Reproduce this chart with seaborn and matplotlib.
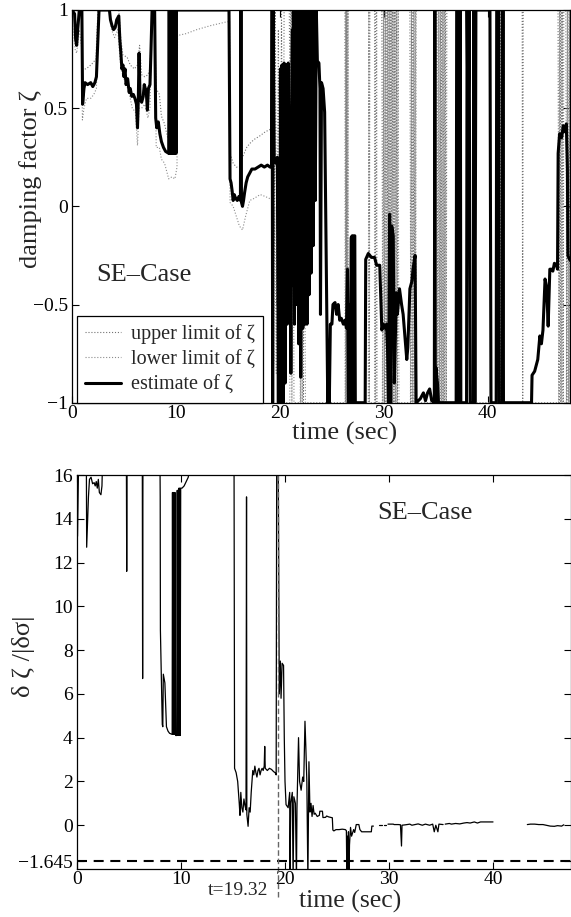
import matplotlib
matplotlib.use("Agg")
import matplotlib.pyplot as plt
import numpy as np
import pandas as pd
import seaborn as sns

nan = float("nan")

# ---------------- data: top panel (damping factor) ----------------
est_pts = [
(0.0,1.0),(0.25,0.98),(0.35,0.85),(0.45,0.82),(0.55,0.9),(0.7,1.0),(0.95,1.0),(1.02,0.52),(1.15,0.6),(1.25,0.63),(1.5,0.62),(1.8,0.63),(2.0,0.61),(2.2,0.63),(2.35,0.66),(2.6,1.0),(3.6,1.0),(3.7,0.95),(3.85,0.92),(4.0,0.9),(4.15,0.91),(4.3,0.95),(4.5,0.97),(4.6,0.85),(4.7,0.78),(4.8,0.7),(4.9,0.72),(5.0,0.66),(5.1,0.7),(5.2,0.62),(5.35,0.65),(5.5,0.58),(5.6,0.6),(5.75,0.56),(5.9,0.57),(6.05,0.55),(6.2,0.52),(6.3,0.4),(6.38,0.55),(6.45,0.78),(6.55,0.55),(6.7,0.53),(6.85,0.56),(6.95,0.62),(7.05,0.6),(7.15,0.58),(7.25,0.49),(7.35,0.6),(7.5,0.62),(7.6,0.8),(7.7,1.0),(7.95,1.0),(8.05,0.45),(8.15,0.4),(8.3,0.43),(8.45,0.37),(8.6,0.33),(8.8,0.3),(9.0,0.28),(9.3,0.27),
(9.35,1.0),(9.4,0.27),(9.45,1.0),(9.5,0.27),(9.55,1.0),(9.6,0.27),(9.65,1.0),(9.7,0.27),(9.75,1.0),(9.8,0.27),(9.85,1.0),(9.9,0.27),(9.95,1.0),(10.0,0.27),(10.05,1.0),
(15.1,1.0),(15.2,0.14),(15.3,0.12),(15.4,0.08),(15.5,0.03),(15.6,0.06),(15.75,0.04),(15.9,0.03),(16.05,0.05),(16.2,0.03),(16.25,1.0),(16.3,0.02),(16.4,0.0),(16.5,0.03),(16.6,0.07),(16.75,0.12),(16.9,0.15),(17.1,0.17),(17.3,0.19),(17.6,0.19),(17.9,0.2),(18.2,0.21),(18.5,0.2),(18.8,0.21),(19.05,0.2),(19.2,0.2),
(19.25,1.0),(19.3,-1.0),(19.35,1.0),(19.45,0.25),(19.6,0.22),(19.75,0.25),(19.85,-1.0),(19.9,0.0),(20.0,-1.0),(20.05,0.7),(20.1,-1.0),(20.2,0.72),(20.3,-1.0),(20.4,0.73),(20.5,-0.9),(20.6,0.72),(20.7,-0.6),(20.8,0.73),(20.85,0.37),(21.0,0.37),(21.05,-0.85),(21.1,0.38),(21.2,0.9),(21.25,-0.4),(21.3,1.0),(21.4,-0.6),(21.5,1.0),(21.6,-0.5),(21.7,1.0),(21.8,-0.7),(21.9,1.0),(22.0,-0.87),(22.1,1.0),(22.2,-0.62),(22.3,1.0),(22.4,-0.6),(22.5,1.0),(22.6,-0.6),(22.7,1.0),(22.8,-0.45),(22.9,1.0),(23.0,-0.34),(23.1,1.0),(23.2,-0.2),(23.3,1.0),(23.4,0.03),(23.5,1.0),(23.6,0.74),(23.75,0.73),(23.85,0.6),(23.9,-0.55),(24.0,0.63),(24.15,0.6),(24.3,0.48),(24.5,-0.53),(24.6,-1.0),(24.7,-0.85),(24.75,-1.0),(24.85,-0.6),(25.0,-0.6),(25.1,-0.5),(25.3,-0.49),(25.45,-0.55),(25.6,-0.5),(25.75,-0.58),(25.9,-0.57),(26.1,-0.6),(26.25,-0.58),(26.4,-0.62),(26.5,-0.32),(26.6,-1.0),(26.65,-0.5),(26.8,-1.0),(26.85,-0.16),(26.95,-0.15),(27.0,-1.0),(27.1,-0.15),(27.2,-0.15),(27.25,-1.0),(28.2,-1.0),(28.25,-0.27),(28.5,-0.24),(28.8,-0.26),(29.1,-0.26),(29.3,-0.3),(29.6,-0.3),(29.8,-0.63),(29.95,-0.6),(30.1,-0.62),(30.25,-0.6),(30.35,-0.73),(30.45,-1.0),(30.55,-0.04),(30.65,-1.0),(30.75,-0.1),(30.9,-0.15),(31.0,-0.9),(31.2,-0.44),(31.3,-0.55),(31.5,-0.42),(31.7,-0.5),(31.85,-0.55),(32.0,-0.65),(32.2,-0.78),(32.3,-0.72),(32.5,-0.42),(32.7,-0.38),(32.8,-0.32),(33.0,-0.25),(33.1,-1.0),(33.5,-0.98),(33.8,-0.95),(34.0,-0.99),(34.2,-0.95),(34.4,-0.93),(34.6,-0.99),(34.85,-1.0),(34.9,1.0),(34.95,-1.0),(35.0,-0.82),(35.15,-0.9),(35.25,-1.0),
(36.95,-1.0),(37.0,1.0),(37.1,1.0),(37.15,-1.0),(37.3,-1.0),(37.35,1.0),(37.4,-1.0),(37.95,-1.0),(38.0,1.0),(38.1,0.34),(38.2,1.0),(38.3,-1.0),(38.6,-1.0),(38.65,1.0),(38.75,-1.0),(38.85,1.0),(40.2,1.0),(40.3,-1.0),(40.8,-1.0),(40.85,1.0),(41.05,1.0),(41.1,-1.0),(41.4,-1.0),(41.45,1.0),(41.5,-1.0),(44.2,-1.0),(44.25,-0.86),(44.5,-0.84),(44.8,-0.78),(45.0,-0.66),(45.15,-0.7),(45.3,-0.63),(45.5,-0.37),(45.65,-0.41),(45.8,-0.61),(45.96,-0.32),(46.1,-0.32),(46.25,-0.33),(46.4,-0.29),(46.6,-0.3),(46.7,-0.32),(46.76,0.27),(46.9,0.37),(47.1,0.35),(47.25,0.41),(47.4,0.38),(47.55,0.42),(47.65,0.19),(47.7,-0.25),(47.85,-0.27),(48.0,-0.28),
]

upper_pts = [
(0.0,1.0),(0.9,1.0),(1.0,0.7),(1.3,0.7),(1.6,0.71),(2.0,0.73),(2.3,0.75),(2.5,1.0),(4.5,1.0),(4.7,0.85),(4.9,0.77),(5.3,0.76),(5.6,0.72),(6.0,0.7),(6.3,0.72),(6.5,0.82),(6.7,0.67),(7.0,0.66),(7.3,0.67),(7.5,0.7),(7.7,1.0),(7.9,1.0),(8.1,0.6),(8.4,0.57),(8.6,0.46),(8.9,0.42),(9.2,0.35),(9.5,0.34),(9.8,0.35),(10.1,1.0),(15.15,1.0),(15.2,0.27),(15.5,0.22),(15.8,0.2),(16.1,0.2),(16.4,0.25),(16.8,0.3),(17.1,0.32),(17.5,0.34),(18.1,0.36),(18.6,0.38),(19.0,0.39),(19.25,0.4),
(19.35,1.0),(19.45,-0.2),(19.55,1.0),(19.7,-0.5),(19.85,0.9),(20.0,-0.85),(20.15,1.0),(20.3,-0.6),(20.4,1.0),(20.9,1.0),(21.0,0.3),(21.1,1.0),(21.2,0.5),(21.3,1.0),(21.9,1.0),(22.0,-1.0),(22.1,1.0),(22.25,-1.0),(22.4,1.0),
(26.25,1.0),(26.3,-1.0),(26.35,1.0),(26.4,-1.0),(26.45,1.0),(26.5,-1.0),(26.55,1.0),
(28.55,1.0),(28.6,-1.0),(28.65,1.0),(29.1,1.0),(29.15,-1.0),(29.2,1.0),
(29.8,1.0),(29.9,-1.0),(30.0,1.0),(30.1,-1.0),(30.2,1.0),(30.3,-1.0),(30.4,1.0),(30.5,-1.0),(30.6,1.0),(30.7,-1.0),(30.8,1.0),(30.9,-1.0),(31.0,1.0),(31.1,-1.0),(31.2,1.0),(31.3,-1.0),(31.4,1.0),
(32.5,1.0),(32.6,-1.0),(32.7,1.0),(32.8,-1.0),(32.9,1.0),(33.0,-1.0),(33.1,1.0),
(35.1,1.0),(35.2,-1.0),(35.3,1.0),(35.4,-1.0),(35.5,1.0),(35.6,-1.0),(35.7,1.0),(35.8,-1.0),(35.9,1.0),(36.0,-1.0),(36.05,1.0),
(41.0,1.0),(41.1,-1.0),(41.2,1.0),(41.3,-1.0),(41.4,1.0),(41.5,-1.0),(41.55,1.0),
(43.3,1.0),(43.35,-1.0),(43.4,1.0),
(46.75,1.0),(46.85,-1.0),(46.95,1.0),(47.05,-1.0),(47.15,1.0),(47.25,-1.0),(47.3,1.0),(47.5,1.0),(47.6,-1.0),(47.7,1.0),(47.8,-1.0),(47.9,1.0),(48.0,-1.0),
]

lower_pts = [
(0.0,0.95),(0.3,0.8),(0.45,0.78),(0.7,0.9),(0.95,0.8),(1.0,0.44),(1.15,0.5),(1.4,0.55),(1.8,0.55),(2.1,0.57),(2.35,0.6),(2.5,1.0),(3.6,1.0),(3.8,0.9),(4.1,0.86),(4.4,0.9),(4.7,0.7),(5.0,0.65),(5.3,0.61),(5.6,0.55),(5.8,0.5),(6.1,0.48),(6.3,0.31),(6.45,0.5),(6.7,0.5),(7.0,0.52),(7.3,0.45),(7.5,0.5),(7.7,1.0),(7.95,1.0),(8.1,0.3),(8.4,0.3),(8.6,0.24),(8.9,0.22),(9.3,0.14),(9.6,0.15),(9.9,0.14),(10.1,0.2),(10.15,0.87),(11.0,0.88),(12.0,0.9),(13.3,0.92),(14.9,0.94),(15.15,0.94),(15.2,0.02),(15.5,0.0),(15.8,-0.05),(16.1,-0.1),(16.4,-0.12),(16.7,-0.05),(17.1,0.03),(17.5,0.04),(18.1,0.06),(18.6,0.05),(19.0,0.04),(19.25,0.04),
(19.4,-0.8),(19.5,0.0),(19.65,-0.85),(19.8,0.0),(19.95,-0.8),(20.1,0.0),(20.25,-0.85),(20.4,-1.0),(20.95,-1.0),(21.05,1.0),(21.15,-1.0),(21.25,1.0),(21.35,-1.0),(21.95,-1.0),(22.05,1.0),(22.15,-1.0),(22.3,1.0),(22.45,-1.0),
(26.28,-1.0),(26.33,1.0),(26.38,-1.0),(26.43,1.0),(26.48,-1.0),(26.53,1.0),(26.6,-1.0),
(28.5,-1.0),(28.55,1.0),(28.6,-1.0),(29.25,-1.0),(29.3,1.0),(29.35,-1.0),
(29.85,-1.0),(29.95,1.0),(30.05,-1.0),(30.15,1.0),(30.25,-1.0),(30.35,1.0),(30.45,-1.0),(30.55,1.0),(30.65,-1.0),(30.75,1.0),(30.85,-1.0),(30.95,1.0),(31.05,-1.0),(31.15,1.0),(31.25,-1.0),(31.35,1.0),(31.45,-1.0),
(32.55,-1.0),(32.65,1.0),(32.75,-1.0),(32.85,1.0),(32.95,-1.0),(33.05,1.0),(33.1,-1.0),
(35.15,-1.0),(35.25,1.0),(35.35,-1.0),(35.45,1.0),(35.55,-1.0),(35.65,1.0),(35.75,-1.0),(35.85,1.0),(35.95,-1.0),(36.05,-1.0),
(41.05,-1.0),(41.15,1.0),(41.25,-1.0),(41.35,1.0),(41.45,-1.0),(41.5,-1.0),
(46.8,-1.0),(46.9,1.0),(47.0,-1.0),(47.1,1.0),(47.2,-1.0),(47.3,-1.0),(47.55,-1.0),(47.65,1.0),(47.75,-1.0),(47.85,1.0),(47.95,-1.0),
]

# ---------------- data: bottom panel (sensitivity) ----------------
dz_pts = [
(0.0,16.3),(0.05,13.2),(0.15,16.5),(0.9,16.5),(0.93,12.7),(1.1,15.0),(1.2,15.8),(1.35,15.9),(1.5,15.6),(1.65,15.65),(1.75,15.5),(1.85,15.7),(1.95,15.4),(2.05,15.8),(2.15,15.2),(2.3,15.1),(2.4,15.5),(2.45,16.5),
(4.75,16.5),(4.78,11.6),(4.81,16.5),(6.28,16.5),(6.31,6.7),(6.34,16.5),
(7.98,16.5),(8.0,15.0),(8.02,8.9),(8.1,7.0),(8.2,4.6),(8.25,4.5),(8.3,6.9),(8.45,6.5),(8.6,4.5),(8.75,4.3),(8.9,4.2),(9.15,4.15),(9.18,15.2),(9.22,4.15),(9.26,15.2),(9.3,4.15),(9.34,15.2),(9.38,4.15),(9.42,15.2),(9.48,4.1),(9.6,4.1),(9.64,15.3),(9.68,4.1),(9.72,15.3),(9.76,4.1),(9.8,15.4),(9.84,4.1),(9.88,15.4),(9.92,4.1),(9.97,15.4),(10.1,15.4),(10.3,15.5),(10.5,15.7),(10.7,15.9),(10.85,16.5),
(15.1,16.5),(15.15,2.6),(15.3,2.4),(15.45,2.0),(15.6,1.0),(15.67,0.45),(15.75,1.5),(15.85,0.8),(15.95,0.6),(16.05,1.2),(16.15,0.9),(16.25,0.7),(16.3,15.0),(16.33,0.5),(16.4,0.2),(16.45,-0.05),(16.55,0.8),(16.65,0.6),(16.75,1.5),(16.9,2.5),(17.0,2.3),(17.1,2.7),(17.2,2.4),(17.3,2.2),(17.4,2.5),(17.5,2.6),(17.6,2.3),(17.7,2.5),(17.8,2.6),(17.9,2.5),(18.0,2.7),(18.05,3.6),(18.1,2.6),(18.3,2.5),(18.5,2.6),(18.7,2.55),(18.9,2.45),(19.05,2.4),(19.15,2.3),(19.2,16.5),
(19.35,16.5),(19.45,6.0),(19.55,7.5),(19.62,5.8),(19.72,7.4),(19.86,7.3),(19.93,4.0),(20.0,2.0),(20.1,0.94),(20.3,0.8),(20.45,1.5),(20.48,-2.5),(20.55,1.0),(20.7,1.5),(20.78,-2.5),(20.85,1.3),(21.0,1.0),(21.1,-2.5),(21.15,0.8),(21.3,4.0),(21.4,2.0),(21.55,1.6),(21.7,2.2),(21.8,2.0),(21.92,4.75),(22.0,3.6),(22.1,2.0),(22.2,-2.5),(22.3,2.9),(22.4,0.6),(22.5,1.0),(22.6,0.4),(22.7,0.9),(22.8,0.5),(22.9,0.55),(23.1,0.4),(23.3,0.45),(23.35,0.64),(23.6,0.64),(23.65,0.35),(23.9,0.36),(24.0,0.42),(24.2,0.38),(24.4,0.36),(24.55,0.34),(24.6,-0.22),(24.7,-0.26),(24.9,-0.2),(25.2,-0.2),(25.5,-0.18),(25.8,-0.2),(25.9,-0.25),(25.95,-2.5),(26.0,-0.5),(26.05,-2.5),(26.1,-0.3),(26.15,-2.5),(26.2,-0.9),(26.3,-0.1),(26.4,-0.5),(26.6,-0.2),(26.7,-0.33),(26.85,0.03),(27.1,0.03),(27.2,-0.2),(27.37,-0.3),(28.3,-0.3),(28.35,-0.04),(28.5,-0.04),
(28.6,nan),(29.0,0.03),(29.3,0.03),(29.4,nan),(29.5,0.03),(29.7,0.03),(29.8,nan),(29.9,0.05),(30.4,0.05),(30.5,0.03),(30.9,0.03),(31.1,0.02),(31.2,-0.95),(31.25,0.0),(31.6,0.02),(32.0,0.05),(32.2,0.0),(32.4,0.02),(32.8,0.06),(33.2,0.0),(33.5,0.05),(33.9,0.0),(34.2,0.05),(34.35,-0.3),(34.5,0.0),(34.7,-0.3),(34.8,0.05),(35.2,0.03),(35.3,nan),(35.4,0.05),(35.8,0.08),(36.0,0.05),(36.4,0.08),(36.8,0.06),(37.2,0.1),(37.5,0.12),(37.8,0.1),(38.2,0.15),(38.5,0.1),(38.8,0.15),(39.2,0.15),(39.6,0.15),(40.0,0.15),(40.1,nan),(43.3,0.03),(43.6,0.05),(44.0,0.05),(44.4,0.03),(44.8,0.03),(45.1,0.0),(45.5,-0.04),(45.9,-0.05),(46.2,-0.02),(46.6,-0.04),(46.8,0.02),
]

threshold = -1.645
t_detect = 19.32

top_yticks = [-1, -0.5, 0, 0.5, 1]
top_yticklabels = ["\u22121", "\u22120.5", "0", "0.5", "1"]
bot_yticks = [16, 14, 12, 10, 8, 6, 4, 2, 0, -1.645]
bot_yticklabels = ["16", "14", "12", "10", "8", "6", "4", "2", "0", "\u22121.645"]
xticks = [0, 10, 20, 30, 40]

# ---------------- style ----------------
sns.set_style("ticks")
plt.rcParams["font.family"] = ["Liberation Serif", "DejaVu Serif"]
plt.rcParams["axes.unicode_minus"] = True

fig = plt.figure(figsize=(5.71, 9.17), dpi=100)
ax1 = fig.add_axes([72/571, 1-402.7/917, 498/571, 392.7/917])
ax2 = fig.add_axes([77/571, 1-869/917, 493.5/571, 394/917])

def frame(df_pts):
    return pd.DataFrame(df_pts, columns=["t", "v"])

up = frame(upper_pts)
lo = frame(lower_pts)
es = frame(est_pts)

sns.lineplot(data=up, x="t", y="v", sort=False, estimator=None, color="0.45",
             linewidth=0.8, linestyle=":", label="upper limit of \u03b6", ax=ax1)
sns.lineplot(data=lo, x="t", y="v", sort=False, estimator=None, color="0.55",
             linewidth=0.8, linestyle=":", label="lower limit of \u03b6", ax=ax1)
sns.lineplot(data=es, x="t", y="v", sort=False, estimator=None, color="black",
             linewidth=2.2, label="estimate of \u03b6", ax=ax1)

ax1.set_xlim(0, 47.9)
ax1.set_ylim(-1, 1)
ax1.set_xticks(xticks)
ax1.set_xticklabels([str(x) for x in xticks])
ax1.set_yticks(top_yticks)
ax1.set_yticklabels(top_yticklabels)
ax1.set_xlabel("time (sec)", fontsize=19)
ax1.set_ylabel("damping factor \u03b6", fontsize=19)
ax1.xaxis.set_label_coords(0.548, -0.05)
ax1.yaxis.set_label_coords(-0.06, 0.57)
ax1.text(2.37, -0.348, "SE\u2013Case", fontsize=19, ha="left", va="center")

leg = ax1.legend(loc="lower left", bbox_to_anchor=(0.01, 0.0), borderaxespad=0,
                 fontsize=14.5, frameon=True, fancybox=False, edgecolor="black",
                 framealpha=1, handlelength=1.8, handletextpad=0.5,
                 labelspacing=0.3, borderpad=0.4)
leg.get_frame().set_linewidth(0.9)

# bottom panel
dz = frame(dz_pts)
dz["seg"] = dz["v"].isna().cumsum()
dz = dz.dropna()
sns.lineplot(data=dz, x="t", y="v", units="seg", estimator=None, sort=False,
             color="black", linewidth=0.9, legend=False, ax=ax2)

ax2.axhline(threshold, color="black", linewidth=1.5, linestyle=(0, (4.8, 3.2)))
ax2.plot([t_detect, t_detect], [-3.3, 16], color="0.4", linewidth=1.0,
         linestyle=(0, (4, 2)), clip_on=False)
ax2.text(18.4, -3.0, "t=19.32", fontsize=14, ha="right", va="center")

ax2.set_xlim(0, 47.45)
ax2.set_ylim(-2, 16)
ax2.set_xticks(xticks)
ax2.set_xticklabels([str(x) for x in xticks])
ax2.set_yticks(bot_yticks)
ax2.set_yticklabels(bot_yticklabels)
ax2.set_xlabel("time (sec)", fontsize=18.5)
ax2.set_ylabel("\u03b4 \u03b6 /|\u03b4\u03c3|", fontsize=19)
ax2.xaxis.set_label_coords(0.553, -0.054)
ax2.yaxis.set_label_coords(-0.085, 0.54)
ax2.text(28.9, 14.27, "SE\u2013Case", fontsize=19, ha="left", va="center")

for ax in (ax1, ax2):
    ax.tick_params(direction="in", top=True, right=True, length=5, width=0.8,
                   labelsize=14, pad=3, colors="black")
    ax.tick_params(axis="x", pad=1.5)
    for s in ax.spines.values():
        s.set_visible(True)
        s.set_linewidth(0.9)
        s.set_color("black")
    ax.set_facecolor("white")

fig.savefig("out.png", dpi=100, facecolor="white")
